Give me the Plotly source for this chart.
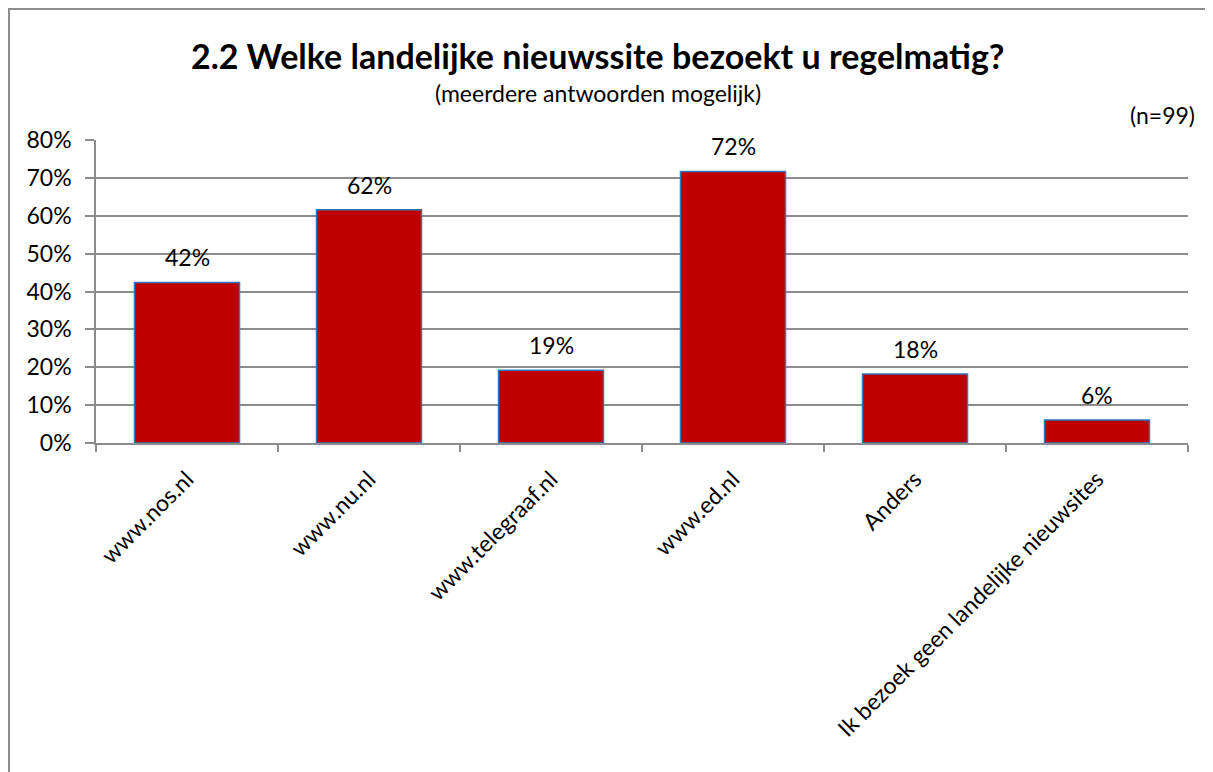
import plotly.graph_objects as go

# data
categories = ["www.nos.nl", "www.nu.nl", "www.telegraaf.nl", "www.ed.nl", "Anders",
              "Ik bezoek geen landelijke nieuwsites"]
shares = [0.424, 0.616, 0.192, 0.717, 0.182, 0.061]
labels = ["42%", "62%", "19%", "72%", "18%", "6%"]
y_ticks = [0, 0.1, 0.2, 0.3, 0.4, 0.5, 0.6, 0.7, 0.8]
y_ticktext = ["0%", "10%", "20%", "30%", "40%", "50%", "60%", "70%", "80%"]

FONT = "Lato"
GRID = "#8c8c8c"
TXT = 23

fig = go.Figure()
fig.add_trace(go.Bar(
    x=categories, y=shares,
    marker=dict(color="#c00000", line=dict(color="#2a7ac0", width=1.5)),
    width=0.577,
    hoverinfo="x+y",
))

# data labels above the bars
for cat, val, lab in zip(categories, shares, labels):
    fig.add_annotation(x=cat, y=val, text=lab, showarrow=False,
                       yanchor="bottom", yshift=9,
                       font=dict(family=FONT, size=TXT, color="black"))

# title, subtitle and sample size
fig.add_annotation(xref="paper", yref="paper", x=0.46, y=1.28, xanchor="center", yanchor="middle",
                   text="<b>2.2 Welke landelijke nieuwssite bezoekt u regelmatig?</b>",
                   showarrow=False, font=dict(family=FONT, size=34, color="black"))
fig.add_annotation(xref="paper", yref="paper", x=0.46, y=1.155, xanchor="center", yanchor="middle",
                   text="(meerdere antwoorden mogelijk)",
                   showarrow=False, font=dict(family=FONT, size=TXT, color="black"))
fig.add_annotation(xref="paper", yref="paper", x=1.008, y=1.0825, xanchor="right", yanchor="middle",
                   text="(n=99)",
                   showarrow=False, font=dict(family=FONT, size=TXT, color="black"))

# chart border
fig.add_shape(type="rect", xref="paper", yref="paper", x0=-0.0797, y0=-1.2, x1=1.05, y1=1.432,
              line=dict(color="#8c8c8c", width=2), layer="below")

fig.update_layout(
    width=1205, height=764,
    margin=dict(l=88, r=25, t=132, b=329),
    paper_bgcolor="white", plot_bgcolor="white",
    showlegend=False,
    font=dict(family=FONT, size=TXT, color="black"),
)
fig.update_yaxes(range=[0, 0.8], tickvals=y_ticks, ticktext=y_ticktext,
                 showgrid=True, gridcolor=GRID, gridwidth=1.5,
                 showline=True, linecolor=GRID, linewidth=1.5,
                 ticks="outside", ticklen=9, tickcolor=GRID, tickwidth=1.5,
                 ticklabelstandoff=9,
                 tickfont=dict(family=FONT, size=TXT, color="black"), zeroline=False)
fig.update_xaxes(showline=True, linecolor=GRID, linewidth=1.5,
                 ticks="outside", tickson="boundaries", ticklen=7, tickcolor=GRID, tickwidth=1.5,
                 tickangle=-45, ticklabelstandoff=12,
                 tickfont=dict(family=FONT, size=TXT, color="black"))

fig.write_html("out.html")
